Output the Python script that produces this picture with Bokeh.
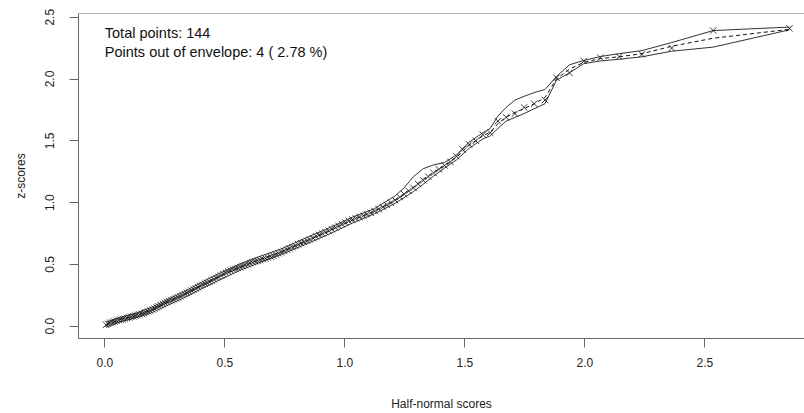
from bokeh.plotting import figure
from bokeh.models import FixedTicker, Span, Label, PrintfTickFormatter
from bokeh.embed import file_html
from bokeh.resources import INLINE

# Half-normal scores (theoretical quantiles) for 144 points
half_normal = [0.005,0.014,0.023,0.032,0.040,0.049,0.058,0.066,0.075,0.084,
0.093,0.101,0.110,0.119,0.127,0.136,0.145,0.154,0.163,0.171,
0.180,0.189,0.198,0.207,0.216,0.224,0.233,0.242,0.251,0.260,
0.269,0.278,0.287,0.296,0.305,0.315,0.324,0.333,0.342,0.351,
0.361,0.370,0.379,0.389,0.398,0.407,0.417,0.426,0.436,0.445,
0.455,0.465,0.474,0.484,0.494,0.504,0.514,0.524,0.534,0.544,
0.554,0.564,0.574,0.584,0.595,0.605,0.615,0.626,0.637,0.647,
0.658,0.669,0.680,0.691,0.702,0.713,0.724,0.736,0.747,0.759,
0.770,0.782,0.794,0.806,0.818,0.830,0.843,0.855,0.868,0.880,
0.893,0.906,0.919,0.933,0.946,0.960,0.974,0.988,1.002,1.017,
1.031,1.046,1.061,1.077,1.092,1.108,1.124,1.141,1.158,1.175,
1.192,1.210,1.229,1.247,1.266,1.286,1.306,1.327,1.348,1.370,
1.392,1.416,1.440,1.465,1.491,1.518,1.546,1.575,1.606,1.638,
1.672,1.709,1.747,1.789,1.834,1.882,1.936,1.996,2.065,2.143,
2.238,2.362,2.535,2.853]

# Observed z-scores (sorted absolute residuals)
z_scores = [0.012,0.020,0.028,0.034,0.039,0.044,0.049,0.053,0.057,0.061,
0.066,0.071,0.076,0.081,0.086,0.091,0.096,0.101,0.107,0.113,
0.120,0.127,0.135,0.144,0.153,0.162,0.171,0.180,0.189,0.197,
0.204,0.211,0.218,0.226,0.234,0.243,0.252,0.261,0.270,0.279,
0.288,0.297,0.306,0.316,0.326,0.335,0.344,0.352,0.361,0.370,
0.380,0.390,0.400,0.411,0.422,0.433,0.442,0.450,0.458,0.465,
0.472,0.479,0.487,0.495,0.503,0.511,0.518,0.525,0.531,0.537,
0.543,0.549,0.556,0.563,0.571,0.580,0.590,0.600,0.610,0.620,
0.630,0.640,0.651,0.662,0.672,0.682,0.692,0.702,0.712,0.728,
0.739,0.750,0.761,0.773,0.786,0.799,0.812,0.826,0.840,0.852,
0.862,0.873,0.884,0.895,0.906,0.918,0.932,0.948,0.965,0.982,
1.000,1.020,1.045,1.070,1.095,1.120,1.150,1.180,1.210,1.240,
1.270,1.300,1.330,1.375,1.430,1.470,1.500,1.550,1.565,1.660,
1.690,1.720,1.770,1.800,1.830,2.010,2.050,2.146,2.173,2.181,
2.199,2.250,2.392,2.410]

# Simulated envelope (read at a subset of the half-normal scores)
env_x = [0.005,0.066,0.136,0.198,0.260,0.333,0.407,0.484,0.564,0.647,
0.736,0.830,0.933,1.031,1.124,1.210,1.247,1.286,1.327,1.370,
1.416,1.465,1.518,1.575,1.606,1.638,1.672,1.709,1.747,1.789,1.834,
1.882,1.936,1.996,2.065,2.143,2.238,2.362,2.535,2.853]
env_lower = [-0.008,0.037,0.072,0.112,0.168,0.234,0.308,0.381,0.453,0.516,
0.581,0.658,0.744,0.834,0.910,0.995,1.040,1.090,1.150,1.215,
1.280,1.345,1.440,1.515,1.540,1.600,1.660,1.690,1.720,1.760,1.800,
1.990,2.050,2.125,2.146,2.160,2.180,2.225,2.258,2.398]
env_median = [0.012,0.055,0.090,0.133,0.192,0.258,0.335,0.408,0.478,0.540,
0.602,0.682,0.768,0.858,0.930,1.020,1.065,1.125,1.190,1.245,
1.300,1.365,1.465,1.540,1.570,1.640,1.690,1.730,1.760,1.800,1.850,
2.000,2.080,2.135,2.165,2.180,2.205,2.265,2.330,2.402]
env_upper = [0.033,0.073,0.110,0.156,0.216,0.282,0.359,0.434,0.504,0.566,
0.626,0.708,0.794,0.882,0.952,1.055,1.120,1.210,1.275,1.305,
1.325,1.385,1.490,1.565,1.600,1.700,1.770,1.830,1.860,1.890,1.915,
2.020,2.115,2.150,2.182,2.205,2.230,2.295,2.392,2.420]

x_ticks = [0.0, 0.5, 1.0, 1.5, 2.0, 2.5]
y_ticks = [0.0, 0.5, 1.0, 1.5, 2.0, 2.5]

FONT = "Liberation Sans"
AXIS_COL = "#666666"

p = figure(width=804, height=413, x_range=(-0.1096, 2.9154), y_range=(-0.099, 2.530),
           output_backend="svg", toolbar_location=None,
           min_border_left=78, min_border_right=0, min_border_top=13, min_border_bottom=74,
           background_fill_color="white", border_fill_color="white")
p.outline_line_color = None
p.xgrid.visible = False
p.ygrid.visible = False

# top border of the box
p.add_layout(Span(location=2.530, dimension="width", line_color=AXIS_COL, line_width=1))

for ax in (p.xaxis[0], p.yaxis[0]):
    ax.axis_line_color = AXIS_COL
    ax.major_tick_line_color = AXIS_COL
    ax.minor_tick_line_color = None
    ax.major_tick_in = 0
    ax.major_tick_out = 9
    ax.major_label_text_font = FONT
    ax.major_label_text_font_size = "12px"
    ax.major_label_text_color = "#222222"
    ax.axis_label_text_font = FONT
    ax.axis_label_text_font_size = "12px"
    ax.axis_label_text_font_style = "normal"
    ax.axis_label_text_color = "#222222"
    ax.formatter = PrintfTickFormatter(format="%.1f")

p.xaxis[0].ticker = FixedTicker(ticks=x_ticks)
p.yaxis[0].ticker = FixedTicker(ticks=y_ticks)
p.xaxis[0].axis_label = "Half-normal scores"
p.yaxis[0].axis_label = "z-scores"
p.xaxis[0].major_label_standoff = 10
p.xaxis[0].axis_label_standoff = 27
p.yaxis[0].major_label_orientation = "vertical"
p.yaxis[0].major_label_standoff = 15
p.yaxis[0].axis_label_standoff = 15

# envelope
p.line(env_x, env_lower, line_color="#333333", line_width=1)
p.line(env_x, env_upper, line_color="#333333", line_width=1)
p.line(env_x, env_median, line_color="#111111", line_width=1, line_dash="4 3")

# points
p.scatter(half_normal, z_scores, marker="x", size=9, line_color="#1a1a1a", line_width=1, line_alpha=0.85)

n_total = len(z_scores)
n_out = 4
p.add_layout(Label(x=0.0, y=2.374, text=f"Total points: {n_total}", text_font=FONT,
                   text_font_size="14.5px", text_baseline="middle", text_color="#111111"))
p.add_layout(Label(x=0.0, y=2.218, text=f"Points out of envelope: {n_out} ( {100*n_out/n_total:.2f} %)",
                   text_font=FONT, text_font_size="14.5px", text_baseline="middle", text_color="#111111"))

open("out.html", "w").write(file_html(p, INLINE))
